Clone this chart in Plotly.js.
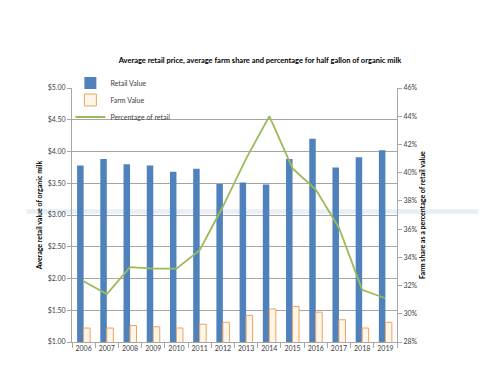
<!DOCTYPE html>
<html>
<head>
<meta charset="utf-8">
<script src="https://cdn.plot.ly/plotly-3.0.1.min.js"></script>
<style>html,body{margin:0;padding:0;background:#fff;}#chart{width:500px;height:375px;}</style>
</head>
<body>
<div id="chart"></div>
<script>
const years = ["2006","2007","2008","2009","2010","2011","2012","2013","2014","2015","2016","2017","2018","2019"];
const retailValue = [3.78, 3.88, 3.80, 3.78, 3.68, 3.73, 3.49, 3.51, 3.48, 3.88, 4.20, 3.75, 3.91, 4.02];
const farmValue = [1.22, 1.22, 1.26, 1.24, 1.22, 1.28, 1.31, 1.42, 1.52, 1.56, 1.47, 1.35, 1.22, 1.31];
const percentOfRetail = [32.3, 31.4, 33.3, 33.2, 33.2, 34.5, 37.6, 41.0, 44.0, 40.3, 38.8, 36.1, 31.7, 31.1];

const fam = "Lato, 'Open Sans', sans-serif";
const tickFont = {family: fam, size: 7, color: "#404040"};
const titleFont = {family: fam, size: 7, color: "#000", weight: "bold"};
const legFont = {family: fam, size: 7, color: "#404040"};

const traces = [
  {type: "bar", name: "Retail Value", x: years, y: retailValue, legend: "legend",
   marker: {color: "#4F81BD", line: {width: 0}}},
  {type: "bar", name: "Farm Value", x: years, y: farmValue, legend: "legend2",
   marker: {color: "#FEF6EA", line: {color: "#F0A25A", width: 1}}},
  {type: "scatter", mode: "lines", name: "Percentage of retail", x: years, y: percentOfRetail,
   yaxis: "y2", legend: "legend3", line: {color: "#9BBB59", width: 1.8}}
];

function leg(y) {
  return {x: -0.005, y: y, xanchor: "left", yanchor: "middle", bgcolor: "rgba(0,0,0,0)",
          font: legFont, borderwidth: 0};
}

const layout = {
  width: 500, height: 375,
  margin: {l: 72, r: 103, t: 88, b: 33},
  paper_bgcolor: "#fff", plot_bgcolor: "#fff",
  barmode: "group", bargap: 0.44, bargroupgap: 0,
  showlegend: true,
  legend: leg(1.0197),
  legend2: leg(0.9528),
  legend3: leg(0.8858),
  title: {text: "Average retail price, average farm share and percentage for half gallon of organic milk",
          font: {family: fam, size: 7.5, color: "#000", weight: "bold"},
          x: 0.52, xref: "container", xanchor: "center", y: 0.84, yref: "container", yanchor: "middle"},
  xaxis: {type: "category", showline: true, linecolor: "#A6A6A6", linewidth: 1,
          ticks: "outside", tickson: "boundaries", ticklen: 5, tickcolor: "#A6A6A6", tickangle: 0,
          tickfont: tickFont, showgrid: false, zeroline: false},
  yaxis: {range: [1, 5], dtick: 0.5, tickformat: "$.2f", showline: true, linecolor: "#A6A6A6",
          ticks: "outside", ticklen: 4, tickcolor: "#A6A6A6", tickfont: tickFont,
          showgrid: true, gridcolor: "#A6A6A6", gridwidth: 1, zeroline: false,
          title: {text: "Average retail value of organic milk", font: titleFont, standoff: 4}},
  yaxis2: {overlaying: "y", side: "right", range: [28, 46], dtick: 2, ticksuffix: "%",
           showline: true, linecolor: "#A6A6A6", ticks: "outside", ticklen: 4, tickcolor: "#A6A6A6",
           tickfont: tickFont, showgrid: false, zeroline: false,
           title: {text: "Farm share as a percentage of retail value", font: titleFont, standoff: 0}},
  shapes: [
    {type: "rect", xref: "paper", yref: "paper", x0: -0.14, x1: 1.25, y0: 0.505, y1: 0.523,
     fillcolor: "rgba(210,222,238,0.5)", line: {width: 0}, layer: "below"}
  ]
};

Plotly.newPlot("chart", traces, layout, {displayModeBar: false, staticPlot: true});
</script>
</body>
</html>
